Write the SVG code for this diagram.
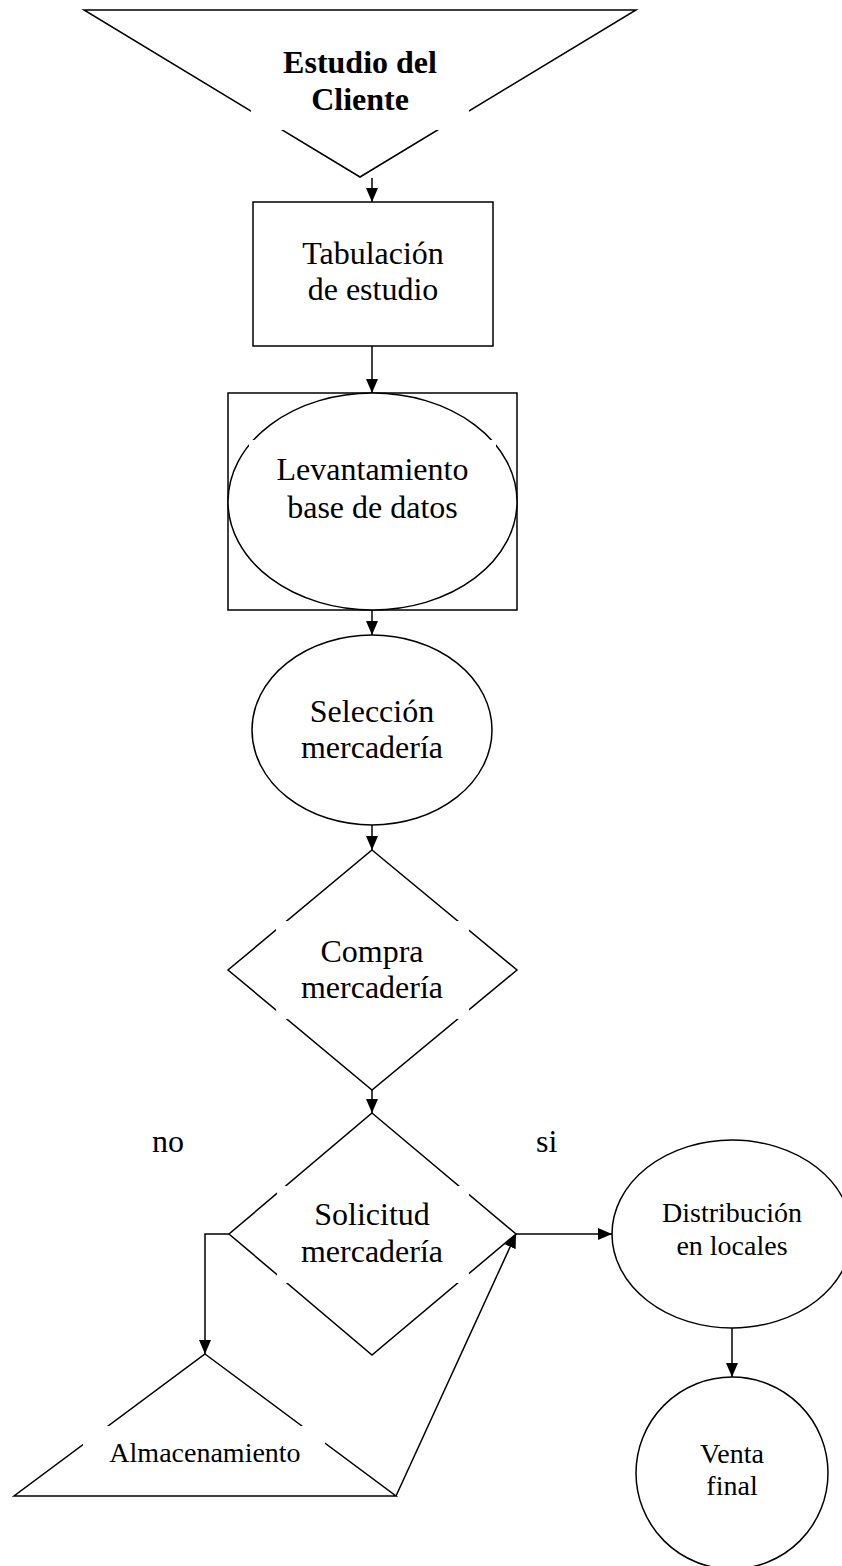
<svg xmlns="http://www.w3.org/2000/svg" width="842" height="1566" viewBox="0 0 842 1566">
<defs>
<style>
.shape{fill:#fff;stroke:#000;stroke-width:1.5}
.mask{fill:#fff;stroke:none}
.t{font-family:"Liberation Serif","Times New Roman",serif;font-size:32px;fill:#000;text-anchor:middle}
.s{font-size:28px}
.b{font-weight:bold}
.c{fill:none;stroke:#000;stroke-width:1.5}
</style>
<marker id="arr" markerUnits="userSpaceOnUse" markerWidth="14" markerHeight="12" refX="14" refY="6" orient="auto">
<path d="M0,0 L14,6 L0,12 z" fill="#000"/>
</marker>
</defs>
<rect width="842" height="1566" fill="#fff"/>
<g id="estudio">
<polygon class="shape" points="84,10 636,10 360,177"/>
<rect class="mask" x="251" y="40" width="218" height="90"/>
<text class="t b" x="360" y="73">Estudio del</text>
<text class="t b" x="360" y="110">Cliente</text>
</g>
<g id="tabulacion">
<rect class="shape" x="253" y="202" width="240" height="144"/>
<text class="t" x="373" y="264">Tabulación</text>
<text class="t" x="373" y="300">de estudio</text>
</g>
<g id="levantamiento">
<rect class="shape" x="228" y="393" width="289" height="217"/>
<ellipse class="shape" cx="372.5" cy="501.5" rx="144.5" ry="108.5"/>
<rect class="mask" x="249" y="440" width="247" height="100"/>
<text class="t" x="372.5" y="480">Levantamiento</text>
<text class="t" x="372.5" y="518">base de datos</text>
</g>
<g id="seleccion">
<ellipse class="shape" cx="372" cy="730" rx="120" ry="95"/>
<text class="t" x="372" y="722">Selección</text>
<text class="t" x="372" y="758">mercadería</text>
</g>
<g id="compra">
<polygon class="shape" points="372,850 517,970 372,1090 228,970"/>
<rect class="mask" x="276" y="921" width="193" height="98"/>
<text class="t" x="372" y="962">Compra</text>
<text class="t" x="372" y="998">mercadería</text>
</g>
<g id="solicitud">
<polygon class="shape" points="372,1113 516,1234 372,1355 229,1234"/>
<rect class="mask" x="277" y="1186" width="192" height="97"/>
<text class="t" x="372" y="1225">Solicitud</text>
<text class="t" x="372" y="1262">mercadería</text>
</g>
<g id="almacenamiento">
<polygon class="shape" points="205,1354 396,1496 14,1496"/>
<rect class="mask" x="83" y="1426" width="242" height="58"/>
<text class="t s" x="205" y="1462">Almacenamiento</text>
</g>
<g id="distribucion">
<ellipse class="shape" cx="732" cy="1234" rx="120" ry="94"/>
<text class="t s" x="732" y="1222">Distribución</text>
<text class="t s" x="732" y="1255">en locales</text>
</g>
<g id="venta">
<circle class="shape" cx="732" cy="1473" r="96"/>
<text class="t s" x="732" y="1463">Venta</text>
<text class="t s" x="732" y="1495">final</text>
</g>
<g id="labels">
<text class="t" x="152" y="1152" style="text-anchor:start">no</text>
<text class="t" x="536" y="1152" style="text-anchor:start">si</text>
</g>
<g id="connectors">
<path class="c" d="M372,178 L372,202" marker-end="url(#arr)"/>
<path class="c" d="M372,346 L372,393" marker-end="url(#arr)"/>
<path class="c" d="M372,610 L372,635" marker-end="url(#arr)"/>
<path class="c" d="M372,825 L372,850" marker-end="url(#arr)"/>
<path class="c" d="M372,1090 L372,1113" marker-end="url(#arr)"/>
<path class="c" d="M229,1234 L205,1234 L205,1354" marker-end="url(#arr)"/>
<path class="c" d="M516,1234 L612,1234" marker-end="url(#arr)"/>
<path class="c" d="M396,1496 L516,1234" marker-end="url(#arr)"/>
<path class="c" d="M732,1328 L732,1377" marker-end="url(#arr)"/>
</g>
</svg>
